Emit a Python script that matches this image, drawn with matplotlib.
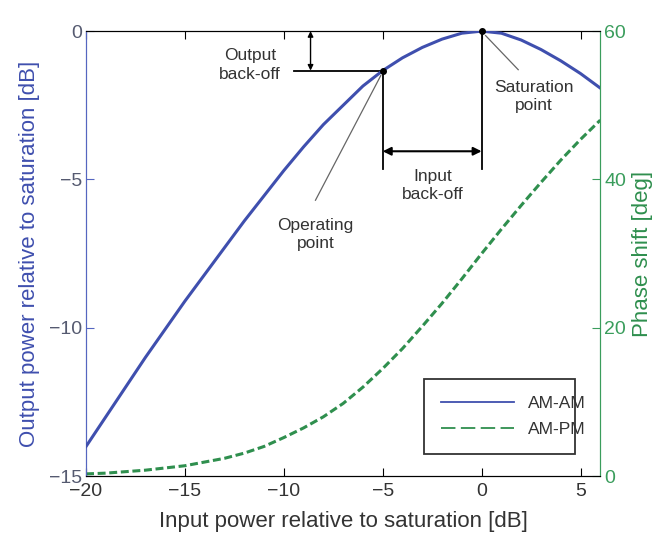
import numpy as np
import matplotlib
matplotlib.use("Agg")
import matplotlib.pyplot as plt

# input power relative to saturation [dB]
input_db = [-20, -19, -18, -17, -16, -15, -14, -13, -12, -11, -10, -9, -8, -7,
            -6, -5, -4, -3, -2, -1, 0, 1, 2, 3, 4, 5, 6]
# AM-AM: output power relative to saturation [dB]
am_am = [-14.0, -13.0, -12.0, -11.0, -10.05, -9.1, -8.2, -7.3, -6.4, -5.55,
         -4.7, -3.9, -3.15, -2.5, -1.85, -1.33, -0.9, -0.55, -0.27, -0.07,
         0.0, -0.07, -0.3, -0.62, -1.0, -1.43, -1.92]
# AM-PM: phase shift [deg]
am_pm = [0.3, 0.4, 0.6, 0.8, 1.1, 1.4, 1.9, 2.4, 3.1, 4.0, 5.2, 6.5, 8.0, 9.8,
         12.0, 14.5, 17.2, 20.2, 23.3, 26.6, 30.0, 33.3, 36.5, 39.6, 42.6, 45.4, 48.0]

op_point = (-5, -1.33)
sat_point = (0, 0)

BLUE = '#3f4fae'
BLUE_AX = '#5566c0'
GREEN = '#2f8f4e'
GREEN_AX = '#3a9d5c'
TXT = '#333333'

plt.rcParams['font.family'] = ['Liberation Sans', 'DejaVu Sans']

fig = plt.figure(figsize=(6.67, 5.46), dpi=100)
ax = fig.add_axes([0.129, 0.128, 0.771, 0.815])
ax2 = ax.twinx()

ax.plot(input_db, am_am, color=BLUE, linewidth=2.2, label='AM-AM', zorder=3)
ax2.plot(input_db, am_pm, color=GREEN, linewidth=2.2, linestyle=(0, (2.6, 1.2)), label='AM-PM')

ax.set_xlim(-20, 6)
ax.set_ylim(-15, 0)
ax2.set_ylim(0, 60)
ax.set_xticks([-20, -15, -10, -5, 0, 5])
ax.set_yticks([-15, -10, -5, 0])
ax2.set_yticks([0, 20, 40, 60])
ax.set_xticklabels(['\u221220', '\u221215', '\u221210', '\u22125', '0', '5'])
ax.set_yticklabels(['\u221215', '\u221210', '\u22125', '0'])

ax.tick_params(axis='x', direction='in', top=True, length=6, labelsize=14,
               labelcolor=TXT, pad=5)
ax.tick_params(axis='y', direction='in', length=6, labelsize=14,
               colors=BLUE_AX, labelcolor='#555a70', pad=3)
ax2.tick_params(axis='y', direction='in', length=6, labelsize=14,
                colors=GREEN_AX, labelcolor=GREEN_AX, pad=3)

for a in (ax, ax2):
    a.spines['left'].set_color(BLUE_AX)
    a.spines['right'].set_color(GREEN_AX)
    a.spines['top'].set_color('black')
    a.spines['bottom'].set_color('black')

ax.set_xlabel('Input power relative to saturation [dB]', fontsize=16, color=TXT, labelpad=8)
ax.set_ylabel('Output power relative to saturation [dB]', fontsize=16, color=BLUE, labelpad=6)
ax2.set_ylabel('Phase shift [deg]', fontsize=16, color=GREEN, labelpad=4)

# annotations
ax.set_zorder(ax2.get_zorder() + 1)
ax.patch.set_visible(False)

ax.plot(*op_point, 'o', color='black', markersize=4, zorder=5)
ax.plot(*sat_point, 'o', color='black', markersize=4, zorder=5, clip_on=False)

ax.plot([op_point[0], op_point[0]], [op_point[1], -4.65], color='black', linewidth=1.3)
ax.plot([sat_point[0], sat_point[0]], [sat_point[1], -4.65], color='black', linewidth=1.3)
ax.plot([-9.5, op_point[0]], [op_point[1], op_point[1]], color='black', linewidth=1.3)

ax.annotate('', xy=(op_point[0], -4.05), xytext=(sat_point[0], -4.05),
            arrowprops=dict(arrowstyle='<|-|>', color='black', lw=1.5,
                            mutation_scale=12, shrinkA=0, shrinkB=0))
ax.annotate('', xy=(-8.65, 0), xytext=(-8.65, op_point[1]),
            arrowprops=dict(arrowstyle='<|-|>', color='black', lw=1.0,
                            mutation_scale=8, shrinkA=0, shrinkB=0))

ax.text(-2.45, -5.2, 'Input\nback-off', ha='center', va='center', fontsize=12.5,
        color=TXT, linespacing=1.3)
ax.text(-11.7, -1.15, 'Output\nback-off', ha='center', va='center', fontsize=12.5,
        color=TXT, linespacing=1.3)
ax.text(-8.4, -6.85, 'Operating\npoint', ha='center', va='center', fontsize=12.5,
        color=TXT, linespacing=1.3)
ax.text(2.65, -2.2, 'Saturation\npoint', ha='center', va='center', fontsize=12.5,
        color=TXT, linespacing=1.3)

ax.plot([-8.4, -5.1], [-5.7, -1.5], color='#666666', linewidth=0.9)
ax.plot([0.2, 1.85], [-0.15, -1.3], color='#666666', linewidth=0.9)

h1, l1 = ax.get_legend_handles_labels()
h2, l2 = ax2.get_legend_handles_labels()
leg = ax.legend(h1 + h2, l1 + l2, loc='lower left', bbox_to_anchor=(0.64, 0.03, 0.327, 0.182),
                mode='expand', fontsize=12.5, handlelength=4.2, fancybox=False,
                frameon=True, borderpad=1.0, labelspacing=0.6, handletextpad=0.8)
leg.get_frame().set_edgecolor('black')
leg.get_frame().set_linewidth(1.3)
for t in leg.get_texts():
    t.set_color(TXT)
for lh in leg.get_lines():
    lh.set_linewidth(1.3)
leg.get_lines()[1].set_dashes([8, 3])

fig.savefig('out.png', dpi=100)
